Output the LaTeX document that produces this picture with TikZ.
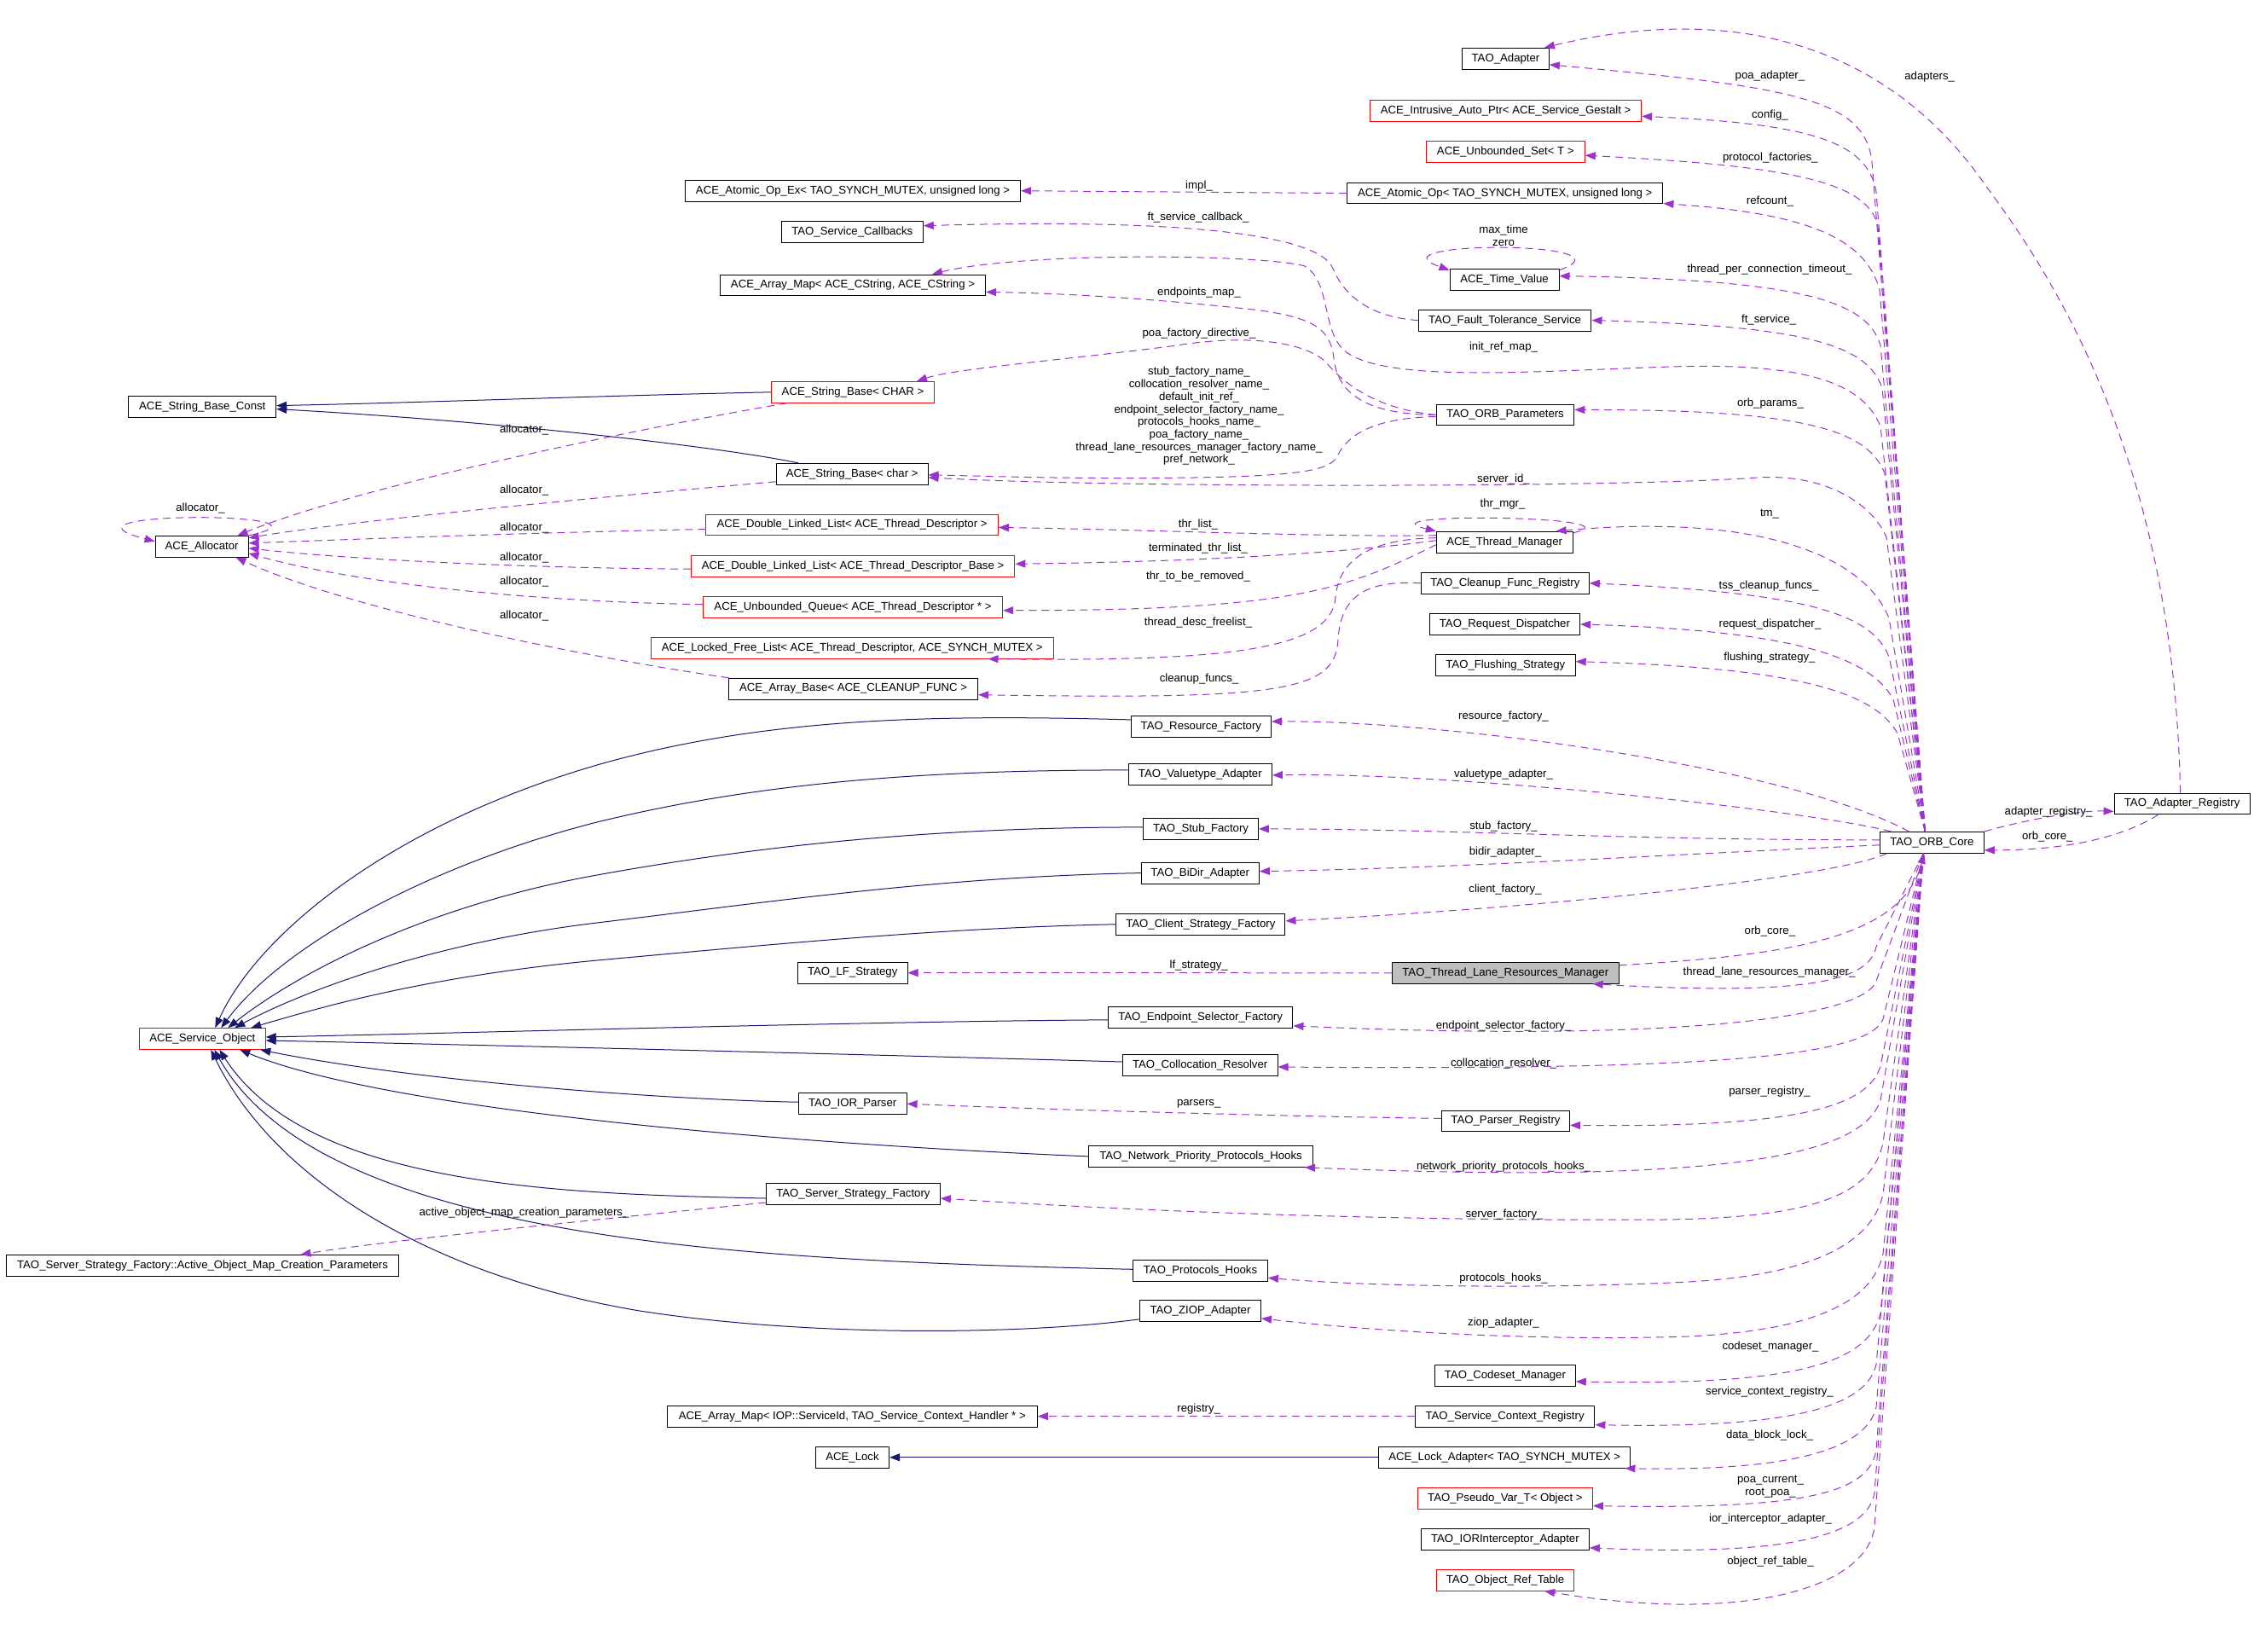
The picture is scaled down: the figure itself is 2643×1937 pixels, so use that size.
\documentclass[tikz,border=0pt]{standalone}
\usepackage{fontspec}
\setmainfont{Liberation Sans}
\usetikzlibrary{arrows.meta}
\definecolor{depc}{RGB}{154,50,205}
\definecolor{inhc}{RGB}{25,25,112}
\definecolor{focusc}{RGB}{191,191,191}
\tikzset{
  cls/.style={draw=black, line width=1pt, minimum height=24.8pt, inner xsep=2pt, inner ysep=0pt, fill=white, font=\fontsize{13.2}{14.7}\selectfont},
  redcls/.style={cls, draw=red},
  focus/.style={cls, fill=focusc},
  lbl/.style={inner sep=0pt, font=\fontsize{13.2}{14.7}\selectfont, align=center},
  dep/.style={draw=depc, line width=1pt, dash pattern=on 9pt off 6pt, -{Triangle[length=12pt,width=9pt,fill=depc]}},
  inh/.style={draw=inhc, line width=1pt, -{Triangle[length=12pt,width=9pt,fill=inhc]}},
}
\begin{document}
\begin{tikzpicture}[x=1pt,y=-1pt]
\useasboundingbox (0,0) rectangle (2643,1937);
% ---------------- nodes ----------------
\node[cls, minimum width=172.8pt] (sbconst) at (237.3,476.6) {ACE\_String\_Base\_Const};
\node[cls, minimum width=109pt] (alloc) at (236.6,640.8) {ACE\_Allocator};
\node[cls, minimum width=393.3pt] (aoex) at (1000,223.7) {ACE\_Atomic\_Op\_Ex< TAO\_SYNCH\_MUTEX, unsigned long >};
\node[cls, minimum width=166pt] (svccb) at (999.3,271.7) {TAO\_Service\_Callbacks};
\node[cls, minimum width=311pt] (amap) at (1000,334.4) {ACE\_Array\_Map< ACE\_CString, ACE\_CString >};
\node[redcls, minimum width=190.7pt] (sbCHAR) at (1000,459.8) {ACE\_String\_Base< CHAR >};
\node[cls, minimum width=177.7pt] (sbchar) at (999.2,555.8) {ACE\_String\_Base< char >};
\node[redcls, minimum width=342.4pt] (dlltd) at (999.1,615.5) {ACE\_Double\_Linked\_List< ACE\_Thread\_Descriptor >};
\node[redcls, minimum width=379.5pt] (dlltdb) at (1000.1,664.2) {ACE\_Double\_Linked\_List< ACE\_Thread\_Descriptor\_Base >};
\node[redcls, minimum width=351.3pt] (uq) at (1000,711.7) {ACE\_Unbounded\_Queue< ACE\_Thread\_Descriptor * >};
\node[redcls, minimum width=471.4pt] (lfl) at (999.3,759.7) {ACE\_Locked\_Free\_List< ACE\_Thread\_Descriptor, ACE\_SYNCH\_MUTEX >};
\node[cls, minimum width=292pt] (abase) at (1000.6,807.7) {ACE\_Array\_Base< ACE\_CLEANUP\_FUNC >};
\node[cls, minimum width=128.6pt] (lfs) at (999.7,1140.6) {TAO\_LF\_Strategy};
\node[cls, minimum width=126.8pt] (iorp) at (999.7,1294.2) {TAO\_IOR\_Parser};
\node[cls, minimum width=204pt] (ssf) at (1000.4,1400) {TAO\_Server\_Strategy\_Factory};
\node[cls, minimum width=434pt] (amapiop) at (999.3,1660.6) {ACE\_Array\_Map< IOP::ServiceId, TAO\_Service\_Context\_Handler * >};
\node[cls, minimum width=86.2pt] (lock) at (999.5,1708.8) {ACE\_Lock};
\node[cls, minimum width=459.8pt] (aomcp) at (237.5,1483.9) {TAO\_Server\_Strategy\_Factory::Active\_Object\_Map\_Creation\_Parameters};
\node[redcls, minimum width=147.8pt] (so) at (237.3,1218) {ACE\_Service\_Object};
\node[cls, minimum width=101.8pt] (tadapter) at (1765.5,68.8) {TAO\_Adapter};
\node[redcls, minimum width=318pt] (iap) at (1765.6,130.3) {ACE\_Intrusive\_Auto\_Ptr< ACE\_Service\_Gestalt >};
\node[redcls, minimum width=186pt] (uset) at (1765.3,178.2) {ACE\_Unbounded\_Set< T >};
\node[cls, minimum width=370.5pt] (aop) at (1764.7,226.6) {ACE\_Atomic\_Op< TAO\_SYNCH\_MUTEX, unsigned long >};
\node[cls, minimum width=128pt] (tv) at (1764,327.6) {ACE\_Time\_Value};
\node[cls, minimum width=202.7pt] (fts) at (1764.6,375.6) {TAO\_Fault\_Tolerance\_Service};
\node[cls, minimum width=161.6pt] (orbp) at (1765,486.5) {TAO\_ORB\_Parameters};
\node[cls, minimum width=159.8pt] (tmgr) at (1764.2,635.7) {ACE\_Thread\_Manager};
\node[cls, minimum width=197pt] (cfr) at (1764.8,683.8) {TAO\_Cleanup\_Func\_Registry};
\node[cls, minimum width=176.3pt] (rd) at (1764.4,732) {TAO\_Request\_Dispatcher};
\node[cls, minimum width=163.8pt] (fs) at (1765.3,779.7) {TAO\_Flushing\_Strategy};
\node[cls, minimum width=164.2pt] (rf) at (1408.4,851.9) {TAO\_Resource\_Factory};
\node[cls, minimum width=168.3pt] (vta) at (1407.3,907.9) {TAO\_Valuetype\_Adapter};
\node[cls, minimum width=134.8pt] (stub) at (1408,971.9) {TAO\_Stub\_Factory};
\node[cls, minimum width=138pt] (bidir) at (1407.3,1023.6) {TAO\_BiDir\_Adapter};
\node[cls, minimum width=198.3pt] (csf) at (1407.8,1083.8) {TAO\_Client\_Strategy\_Factory};
\node[focus, minimum width=265.6pt] (tlrm) at (1765.3,1140.8) {TAO\_Thread\_Lane\_Resources\_Manager};
\node[cls, minimum width=216.7pt] (esf) at (1407.6,1192.8) {TAO\_Endpoint\_Selector\_Factory};
\node[cls, minimum width=181.8pt] (coll) at (1407.2,1249) {TAO\_Collocation\_Resolver};
\node[cls, minimum width=150pt] (preg) at (1765.5,1314.4) {TAO\_Parser\_Registry};
\node[cls, minimum width=263pt] (npph) at (1408,1355.9) {TAO\_Network\_Priority\_Protocols\_Hooks};
\node[cls, minimum width=158pt] (ph) at (1407.5,1490.3) {TAO\_Protocols\_Hooks};
\node[cls, minimum width=142pt] (ziop) at (1407.5,1536.8) {TAO\_ZIOP\_Adapter};
\node[cls, minimum width=164.7pt] (csm) at (1764.9,1612.9) {TAO\_Codeset\_Manager};
\node[cls, minimum width=210.7pt] (scr) at (1764.6,1660.6) {TAO\_Service\_Context\_Registry};
\node[cls, minimum width=295.5pt] (lad) at (1764.2,1708.8) {ACE\_Lock\_Adapter< TAO\_SYNCH\_MUTEX >};
\node[redcls, minimum width=205pt] (pvt) at (1764.9,1756.6) {TAO\_Pseudo\_Var\_T< Object >};
\node[cls, minimum width=196.9pt] (iori) at (1764.9,1804.8) {TAO\_IORInterceptor\_Adapter};
\node[redcls, minimum width=161.6pt] (ort) at (1765.1,1852.7) {TAO\_Object\_Ref\_Table};
\node[cls, minimum width=122pt] (core) at (2265.3,987.8) {TAO\_ORB\_Core};
\node[cls, minimum width=159pt] (areg) at (2558.6,942.4) {TAO\_Adapter\_Registry};

% ---------------- inheritance ----------------
\draw[inh] (sbCHAR.west) .. controls (700,464) and (500,472) .. ([yshift=1pt]sbconst.east);
\draw[inh] ([xshift=-63pt]sbchar.north) .. controls (850,525) and (600,495) .. ([yshift=-3pt]sbconst.east);
\draw[inh] (lad.west) -- (lock.east);
\draw[inh] ([yshift=8pt]rf.west) .. controls (1100,838) and (900,840) .. (700,897) .. controls (450,970) and (300,1100) .. ([xshift=15pt]so.north);
\draw[inh] ([yshift=5pt]vta.west) .. controls (1100,903) and (900,915) .. (700,964) .. controls (500,1015) and (330,1110) .. ([xshift=22pt]so.north);
\draw[inh] ([yshift=2pt]stub.west) .. controls (1100,970) and (900,990) .. (700,1026) .. controls (500,1062) and (350,1140) .. ([xshift=30pt]so.north);
\draw[inh] (bidir.west) .. controls (1100,1028) and (900,1058) .. (700,1082) .. controls (500,1106) and (350,1165) .. ([xshift=38pt]so.north);
\draw[inh] (csf.west) .. controls (1100,1088) and (900,1108) .. (700,1126) .. controls (500,1145) and (380,1180) .. ([xshift=57pt]so.north);
\draw[inh] ([yshift=-3pt]esf.west) .. controls (1000,1198) and (600,1210) .. ([yshift=2pt]so.east);
\draw[inh] ([yshift=4pt]coll.west) .. controls (1000,1236) and (600,1226) .. ([yshift=-2pt]so.east);
\draw[inh] ([yshift=2pt]iorp.west) .. controls (800,1290) and (500,1270) .. ([xshift=68pt]so.south);
\draw[inh] (npph.west) .. controls (900,1340) and (450,1300) .. ([xshift=44pt]so.south);
\draw[inh] ([yshift=-5pt]ssf.west) .. controls (650,1400) and (360,1390) .. ([xshift=20pt]so.south);
\draw[inh] ([yshift=2pt]ph.west) .. controls (900,1478) and (380,1460) .. ([xshift=14pt]so.south);
\draw[inh] ([yshift=-10pt]ziop.west) .. controls (1200,1565) and (950,1568) .. (750,1537) .. controls (500,1495) and (320,1380) .. ([xshift=10pt]so.south);

% ---------------- allocator ----------------
\draw[dep] (alloc.north east) .. controls (420,600) and (40,598) .. ([yshift=6pt]alloc.west);
\draw[dep] ([xshift=-77pt]sbCHAR.south) .. controls (760,500) and (420,570) .. ([xshift=42pt]alloc.north);
\draw[dep] ([yshift=-9pt]sbchar.west) .. controls (700,583) and (400,612) .. ([yshift=10pt]alloc.east);
\draw[dep] ([yshift=-5pt]dlltd.west) .. controls (600,625) and (400,633) .. ([yshift=4pt]alloc.east);
\draw[dep] ([yshift=-3pt]dlltdb.west) .. controls (600,666) and (400,655) .. ([yshift=-2pt]alloc.east);
\draw[dep] ([yshift=3pt]uq.west) .. controls (600,705) and (400,680) .. ([yshift=-8pt]alloc.east);
\draw[dep] ([xshift=-146pt]abase.north) .. controls (650,765) and (400,710) .. ([xshift=40pt]alloc.south);

% ---------------- middle ----------------
\draw[dep] (aop.west) -- (aoex.east);
\draw[dep] (fts.west) .. controls (1610,372) and (1578,350) .. (1563,315) .. controls (1550,280) and (1420,255) .. ([yshift=7pt]svccb.east);
\draw[dep] (orbp.west) .. controls (1600,486) and (1568,460) .. (1564,420) .. controls (1560,385) and (1540,372) .. (1470,363) .. controls (1350,350) and (1250,344) .. ([yshift=-8pt]amap.east);
\draw[dep] (orbp.west) .. controls (1620,480) and (1580,455) .. (1555,425) .. controls (1530,400) and (1460,392) .. (1380,405) .. controls (1250,422) and (1120,432) .. ([xshift=75pt]sbCHAR.north);
\draw[dep] ([yshift=-2pt]orbp.west) .. controls (1610,490) and (1580,510) .. (1568,535) .. controls (1560,552) and (1520,558) .. (1400,560) .. controls (1250,562) and (1150,558) .. ([yshift=-1pt]sbchar.east);
\draw[dep] ([yshift=8pt]tmgr.west) .. controls (1550,630) and (1350,621) .. ([yshift=-3pt]dlltd.east);
\draw[dep] ([yshift=2pt]tmgr.west) .. controls (1600,645) and (1450,658) .. ([yshift=3pt]dlltdb.east);
\draw[dep] ([yshift=-3pt]tmgr.west) .. controls (1580,690) and (1520,716) .. ([yshift=-4pt]uq.east);
\draw[dep] ([yshift=5pt]tmgr.west) .. controls (1600,632) and (1570,660) .. (1566,700) .. controls (1562,760) and (1450,776) .. ([xshift=-77pt]lfl.south east);
\draw[dep] (cfr.west) .. controls (1600,680) and (1572,700) .. (1569,750) .. controls (1566,812) and (1500,820) .. ([yshift=-7pt]abase.east);
\draw[dep] ([yshift=-2pt]tmgr.north east) .. controls (1930,605) and (1590,600) .. (tmgr.north west);
\draw[dep] ([yshift=-2pt]tv.north east) .. controls (1925,282) and (1600,282) .. ([yshift=-2pt]tv.north west);
\draw[dep] (tlrm.west) -- (lfs.east);
\draw[dep] ([yshift=3pt]preg.west) .. controls (1500,1309) and (1200,1300) .. (iorp.east);
\draw[dep] (scr.west) -- (amapiop.east);
\draw[dep] ([yshift=-10pt]ssf.west) .. controls (700,1430) and (450,1455) .. ([xshift=115pt]aomcp.north);

% ---------------- ORB core upwards ----------------
\draw[dep] ([xshift=-8pt]core.north) -- (2195,190) .. controls (2187,115) and (2100,102) .. ([yshift=-7pt]tadapter.east);
\draw[dep] ([xshift=-8pt]core.north) -- (2200,225) .. controls (2190,165) and (2120,145) .. ([yshift=-6pt]iap.east);
\draw[dep] ([xshift=-8pt]core.north) -- (2202,265) .. controls (2190,215) and (2110,195) .. ([yshift=-4pt]uset.east);
\draw[dep] ([xshift=-8pt]core.north) -- (2204,340) .. controls (2188,280) and (2120,250) .. ([yshift=-12pt]aop.east);
\draw[dep] ([xshift=-8pt]core.north) -- (2205,405) .. controls (2190,355) and (2120,328) .. ([yshift=4pt]tv.east);
\draw[dep] ([xshift=-8pt]core.north) -- (2207,455) .. controls (2190,405) and (2120,382) .. (fts.east);
\draw[dep] ([xshift=-8pt]core.north) -- (2205,500) .. controls (2185,450) and (2120,425) .. (1960,430) .. controls (1800,435) and (1620,450) .. (1575,410) .. controls (1550,385) and (1560,330) .. (1530,312) .. controls (1480,298) and (1200,295) .. ([xshift=93pt]amap.north);
\draw[dep] ([xshift=-8pt]core.north) -- (2210,555) .. controls (2190,505) and (2120,480) .. ([yshift=6pt]orbp.east);
\draw[dep] ([xshift=-8pt]core.north) -- (2212,630) .. controls (2195,590) and (2140,555) .. (2060,560) .. controls (1900,572) and (1300,572) .. ([yshift=-4pt]sbchar.east);
\draw[dep] ([xshift=-8pt]core.north) -- (2215,725) .. controls (2190,660) and (2080,600) .. ([xshift=-20pt]tmgr.north east);
\draw[dep] ([xshift=-8pt]core.north) -- (2215,770) .. controls (2195,720) and (2120,695) .. (cfr.east);
\draw[dep] ([xshift=-8pt]core.north) -- (2220,820) .. controls (2195,775) and (2120,740) .. (rd.east);
\draw[dep] ([xshift=-8pt]core.north) -- (2225,860) .. controls (2200,815) and (2120,783) .. ([yshift=4pt]fs.east);
\draw[dep] ([xshift=-27pt]core.north) .. controls (2100,900) and (1700,845) .. ([yshift=6pt]rf.east);
\draw[dep] ([xshift=-48pt]core.north) .. controls (2120,950) and (1700,905) .. ([yshift=-1pt]vta.east);
\draw[dep] ([yshift=3pt]core.west) .. controls (1900,985) and (1700,972) .. (stub.east);
\draw[dep] ([yshift=-3pt]core.west) .. controls (1900,1005) and (1700,1018) .. ([yshift=2pt]bidir.east);
\draw[dep] ([xshift=-53pt]core.south) .. controls (2150,1030) and (1800,1065) .. ([yshift=4pt]csf.east);

% ---------------- ORB core downwards ----------------
\draw[dep] ([xshift=-10pt]core.south) -- (2200,1110) .. controls (2192,1150) and (2120,1168) .. ([xshift=-31pt]tlrm.south east);
\draw[dep] ([yshift=9pt]tlrm.east) .. controls (2100,1120) and (2230,1100) .. ([xshift=-9pt]core.south);
\draw[dep] ([xshift=-10pt]core.south) -- (2200,1150) .. controls (2185,1195) and (1950,1222) .. ([yshift=-10pt]esf.east);
\draw[dep] ([xshift=-10pt]core.south) -- (2208,1195) .. controls (2190,1240) and (2000,1255) .. ([yshift=-2pt]coll.east);
\draw[dep] ([xshift=-10pt]core.south) -- (2205,1250) .. controls (2190,1300) and (2100,1322) .. ([yshift=-5pt]preg.east);
\draw[dep] ([xshift=-10pt]core.south) -- (2205,1290) .. controls (2185,1350) and (2050,1390) .. ([xshift=-10pt]npph.south east);
\draw[dep] ([xshift=-10pt]core.south) -- (2208,1340) .. controls (2195,1400) and (2130,1428) .. (1950,1430) .. controls (1600,1432) and (1300,1418) .. ([yshift=-5pt]ssf.east);
\draw[dep] ([xshift=-10pt]core.south) -- (2208,1400) .. controls (2195,1460) and (2120,1495) .. (1980,1503) .. controls (1800,1512) and (1600,1508) .. ([yshift=-8pt]ph.east);
\draw[dep] ([xshift=-10pt]core.south) -- (2208,1470) .. controls (2195,1530) and (2120,1560) .. (1980,1567) .. controls (1800,1573) and (1600,1560) .. ([yshift=-9pt]ziop.east);
\draw[dep] ([xshift=-10pt]core.south) -- (2205,1540) .. controls (2190,1600) and (2100,1625) .. ([yshift=-7pt]csm.east);
\draw[dep] ([xshift=-10pt]core.south) -- (2200,1600) .. controls (2188,1650) and (2100,1675) .. ([yshift=-10pt]scr.east);
\draw[dep] ([xshift=-10pt]core.south) -- (2200,1650) .. controls (2188,1700) and (2100,1725) .. ([xshift=-7pt]lad.south east);
\draw[dep] ([xshift=-10pt]core.south) -- (2200,1700) .. controls (2192,1750) and (2120,1770) .. ([yshift=-9pt]pvt.east);
\draw[dep] ([xshift=-10pt]core.south) -- (2198,1750) .. controls (2190,1800) and (2100,1825) .. ([yshift=-10pt]iori.east);
\draw[dep] ([xshift=-10pt]core.south) -- (2198,1790) .. controls (2190,1860) and (2050,1905) .. ([xshift=46pt]ort.south);

% ---------------- adapter registry ----------------
\draw[dep] (core.north east) .. controls (2380,960) and (2440,950) .. ([yshift=-9pt]areg.west);
\draw[dep] ([xshift=-28pt]areg.south) .. controls (2500,975) and (2440,997) .. ([yshift=-9pt]core.east);
\draw[dep] ([xshift=-2pt]areg.north) .. controls (2550,600) and (2450,380) .. (2330,220) .. controls (2200,30) and (2000,10) .. ([xshift=-6pt]tadapter.north east);

% ---------------- labels ----------------
\node[lbl] (l1) at (235,596.4) {allocator\_};
\node[lbl] (l2) at (614.7,504.2) {allocator\_};
\node[lbl] (l3) at (614.7,575.3) {allocator\_};
\node[lbl] (l4) at (614.7,618.7) {allocator\_};
\node[lbl] (l5) at (614.7,654) {allocator\_};
\node[lbl] (l6) at (614.7,682) {allocator\_};
\node[lbl] (l7) at (614.7,722.5) {allocator\_};
\node[lbl] (l8) at (1406,218.4) {impl\_};
\node[lbl] (l9) at (1405,254.6) {ft\_service\_callback\_};
\node[lbl] (l10) at (1406,342.6) {endpoints\_map\_};
\node[lbl] (l11) at (1406,391.4) {poa\_factory\_directive\_};
\node[lbl] (l12) at (1406,488) {stub\_factory\_name\_\\collocation\_resolver\_name\_\\default\_init\_ref\_\\endpoint\_selector\_factory\_name\_\\protocols\_hooks\_name\_\\poa\_factory\_name\_\\thread\_lane\_resources\_manager\_factory\_name\_\\pref\_network\_};
\node[lbl] (l13) at (1405,615.3) {thr\_list\_};
\node[lbl] (l14) at (1405,643.1) {terminated\_thr\_list\_};
\node[lbl] (l15) at (1405,675.8) {thr\_to\_be\_removed\_};
\node[lbl] (l16) at (1405,730.5) {thread\_desc\_freelist\_};
\node[lbl] (l17) at (1406,795.7) {cleanup\_funcs\_};
\node[lbl] (l18) at (1405.7,1132.4) {lf\_strategy\_};
\node[lbl] (l19) at (1405.7,1294) {parsers\_};
\node[lbl] (l20) at (1405.7,1651.6) {registry\_};
\node[lbl] (l21) at (614.5,1422.4) {active\_object\_map\_creation\_parameters\_};
\node[lbl] (l22) at (1763,276.1) {max\_time\\zero};
\node[lbl] (l23) at (1763,406.6) {init\_ref\_map\_};
\node[lbl] (l24) at (1763,562.3) {server\_id\_};
\node[lbl] (l25) at (1762,591.3) {thr\_mgr\_};
\node[lbl] (l26) at (1763,839.9) {resource\_factory\_};
\node[lbl] (l27) at (1763,907.7) {valuetype\_adapter\_};
\node[lbl] (l28) at (1763,968.7) {stub\_factory\_};
\node[lbl] (l29) at (1765,998.6) {bidir\_adapter\_};
\node[lbl] (l30) at (1765,1042.8) {client\_factory\_};
\node[lbl] (l31) at (1763,1203.1) {endpoint\_selector\_factory\_};
\node[lbl] (l32) at (1763,1247.3) {collocation\_resolver\_};
\node[lbl] (l33) at (1763,1367.6) {network\_priority\_protocols\_hooks\_};
\node[lbl] (l34) at (1764,1423.7) {server\_factory\_};
\node[lbl] (l35) at (1763,1499.5) {protocols\_hooks\_};
\node[lbl] (l36) at (1763,1551.5) {ziop\_adapter\_};
\node[lbl] (l37) at (2075.4,88.8) {poa\_adapter\_};
\node[lbl] (l38) at (2262.7,90.5) {adapters\_};
\node[lbl] (l39) at (2075.4,135.1) {config\_};
\node[lbl] (l40) at (2075.8,184.8) {protocol\_factories\_};
\node[lbl] (l41) at (2075.4,236.5) {refcount\_};
\node[lbl] (l42) at (2075,316.5) {thread\_per\_connection\_timeout\_};
\node[lbl] (l43) at (2074,375) {ft\_service\_};
\node[lbl] (l44) at (2076,472.6) {orb\_params\_};
\node[lbl] (l45) at (2075,602.7) {tm\_};
\node[lbl] (l46) at (2074,686.7) {tss\_cleanup\_funcs\_};
\node[lbl] (l47) at (2075.4,731.8) {request\_dispatcher\_};
\node[lbl] (l48) at (2075,770.9) {flushing\_strategy\_};
\node[lbl] (l49) at (2075.4,1092.4) {orb\_core\_};
\node[lbl] (l50) at (2074.5,1140.4) {thread\_lane\_resources\_manager\_};
\node[lbl] (l51) at (2075,1279.7) {parser\_registry\_};
\node[lbl] (l52) at (2076,1578.7) {codeset\_manager\_};
\node[lbl] (l53) at (2075,1631.9) {service\_context\_registry\_};
\node[lbl] (l54) at (2075,1683.4) {data\_block\_lock\_};
\node[lbl] (l55) at (2076,1743.4) {poa\_current\_\\root\_poa\_};
\node[lbl] (l56) at (2076,1780.6) {ior\_interceptor\_adapter\_};
\node[lbl] (l57) at (2076,1831.3) {object\_ref\_table\_};
\node[lbl] (l58) at (2402,951.9) {adapter\_registry\_};
\node[lbl] (l59) at (2400.8,980.9) {orb\_core\_};
\end{tikzpicture}
\end{document}
